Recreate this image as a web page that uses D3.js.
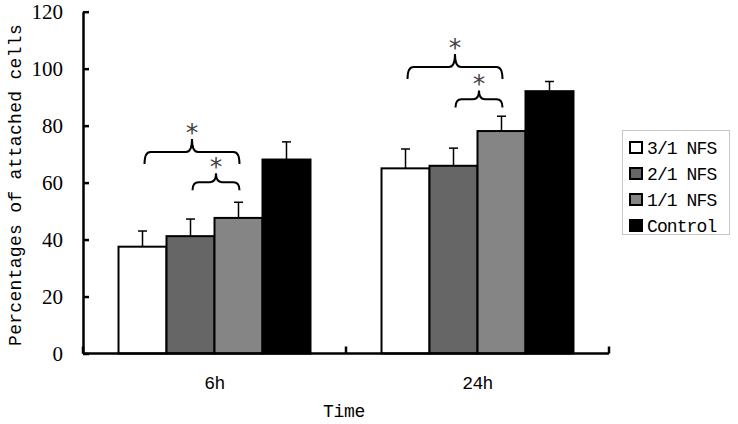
<!DOCTYPE html>
<html><head><meta charset="utf-8">
<script src="https://cdn.jsdelivr.net/npm/d3@7/dist/d3.min.js"></script>
<style>body{margin:0;background:#fff}svg{display:block}</style>
</head><body>
<svg id="c" width="738" height="424"></svg>
<script>
const groups = ["6h", "24h"];
const series = ["3/1 NFS", "2/1 NFS", "1/1 NFS", "Control"];
const colors = ["#ffffff", "#666666", "#858585", "#000000"];
const means6h = [37.5, 41.2, 47.6, 68.1];
const errs6h = [5.5, 6.0, 5.5, 6.2];
const means24h = [65.0, 65.9, 78.1, 92.1];
const errs24h = [6.8, 6.2, 5.2, 3.4];
const yTicks = [0, 20, 40, 60, 80, 100, 120];
const braceGroup = ["6h", "6h", "24h", "24h"];
const braceFrom = [0, 1, 0, 1];
const braceTo = [2, 2, 2, 2];
const braceTip = [66.5, 57.3, 96.4, 86.4];
const braceLabel = ["*", "*", "*", "*"];

const means = {"6h": means6h, "24h": means24h};
const errs = {"6h": errs6h, "24h": errs24h};

const svg = d3.select("#c");
const mLeft = 83, mRight = 609, mTop = 11.7, mBottom = 353.5;
const x0 = d3.scaleBand().domain(groups).range([mLeft, mRight]).paddingInner(0).paddingOuter(0);
const x1 = d3.scaleBand().domain(d3.range(series.length)).range([0, x0.bandwidth()]).paddingInner(0).paddingOuter(0.74);
const y = d3.scaleLinear().domain([0, 120]).range([mBottom, mTop]);

// bars
groups.forEach(g => {
  const gg = svg.append("g").attr("transform", `translate(${x0(g)},0)`);
  series.forEach((s, i) => {
    gg.append("rect")
      .attr("x", x1(i)).attr("y", y(means[g][i]))
      .attr("width", x1.bandwidth()).attr("height", y(0) - y(means[g][i]))
      .attr("fill", colors[i]).attr("stroke", "#000").attr("stroke-width", 2);
    const cx = x1(i) + x1.bandwidth() / 2;
    gg.append("line").attr("x1", cx).attr("x2", cx)
      .attr("y1", y(means[g][i])).attr("y2", y(means[g][i] + errs[g][i]))
      .attr("stroke", "#000").attr("stroke-width", 1.5);
    gg.append("line").attr("x1", cx - 4.5).attr("x2", cx + 4.5)
      .attr("y1", y(means[g][i] + errs[g][i])).attr("y2", y(means[g][i] + errs[g][i]))
      .attr("stroke", "#000").attr("stroke-width", 1.5);
  });
});

// braces
braceGroup.forEach((g, k) => {
  const bxa = x0(g) + x1(braceFrom[k]) + x1.bandwidth() / 2 + 2;
  const bxb = x0(g) + x1(braceTo[k]) + x1.bandwidth() / 2 + 1;
  const big = (braceTo[k] - braceFrom[k]) > 1;
  const h = big ? 25 : 17;
  const yt = y(braceTip[k]);
  const yp = yt - h;
  const yl = yt - h * 0.48;
  const xm = (bxa + bxb) / 2;
  const r = 6;
  const p = `M${bxa},${yt} Q${bxa},${yl} ${bxa + r},${yl} L${xm - r},${yl} Q${xm},${yl} ${xm},${yp}` +
            ` Q${xm},${yl} ${xm + r},${yl} L${bxb - r},${yl} Q${bxb},${yl} ${bxb},${yt}`;
  svg.append("path").attr("d", p).attr("fill", "none").attr("stroke", "#000").attr("stroke-width", 2);
  svg.append("text").attr("x", xm).attr("y", yp + 2)
    .attr("text-anchor", "middle").attr("font-family", "DejaVu Sans Mono").attr("font-size", 25)
    .attr("fill", "#444").text(braceLabel[k]);
});

// y axis
const yAxis = d3.axisLeft(y).tickValues(yTicks).tickSizeInner(-6).tickSizeOuter(0).tickPadding(20);
const ya = svg.append("g").attr("transform", `translate(${mLeft},0)`).call(yAxis);
ya.select(".domain").attr("stroke-width", 2.5);
ya.selectAll(".tick line").attr("stroke-width", 2.5);
ya.selectAll("text").attr("font-family", "Liberation Serif").attr("font-size", 21).attr("fill", "#000");

// x axis
const xAxisG = svg.append("g");
xAxisG.append("line").attr("x1", mLeft).attr("x2", mRight).attr("y1", mBottom).attr("y2", mBottom)
  .attr("stroke", "#000").attr("stroke-width", 2.5);
const bounds = groups.map(g => x0(g)).concat([x0(groups[groups.length - 1]) + x0.bandwidth()]);
xAxisG.selectAll(".xt").data(bounds).join("line").attr("class", "xt")
  .attr("x1", d => d).attr("x2", d => d).attr("y1", mBottom).attr("y2", mBottom - 7)
  .attr("stroke", "#000").attr("stroke-width", 2.5);
xAxisG.selectAll(".xl").data(groups).join("text").attr("class", "xl")
  .attr("x", d => x0(d) + x0.bandwidth() / 2).attr("y", 389)
  .attr("text-anchor", "middle").attr("font-family", "Liberation Mono").attr("font-size", 18)
  .attr("letter-spacing", -0.6).text(d => d);

svg.append("text").attr("x", 344).attr("y", 417).attr("text-anchor", "middle")
  .attr("font-family", "Liberation Mono").attr("font-size", 18).attr("letter-spacing", -0.3).text("Time");

svg.append("text").attr("transform", "translate(21,185) rotate(-90)").attr("text-anchor", "middle")
  .attr("font-family", "Liberation Mono").attr("font-size", 18).attr("letter-spacing", 0.3)
  .text("Percentages of attached cells");

// legend
const lg = svg.append("g");
lg.append("rect").attr("x", 622.5).attr("y", 130.5).attr("width", 107).attr("height", 104)
  .attr("fill", "#fff").attr("stroke", "#c8c8c8").attr("stroke-width", 1);
series.forEach((s, i) => {
  const cy = 147.5 + i * 26;
  lg.append("rect").attr("x", 630).attr("y", cy - 5.5).attr("width", 12).attr("height", 11)
    .attr("fill", colors[i]).attr("stroke", "#000").attr("stroke-width", 2);
  lg.append("text").attr("x", 647).attr("y", cy + 6).attr("font-family", "Liberation Mono")
    .attr("font-size", 18).attr("letter-spacing", -0.9).text(s);
});
</script>
</body></html>
